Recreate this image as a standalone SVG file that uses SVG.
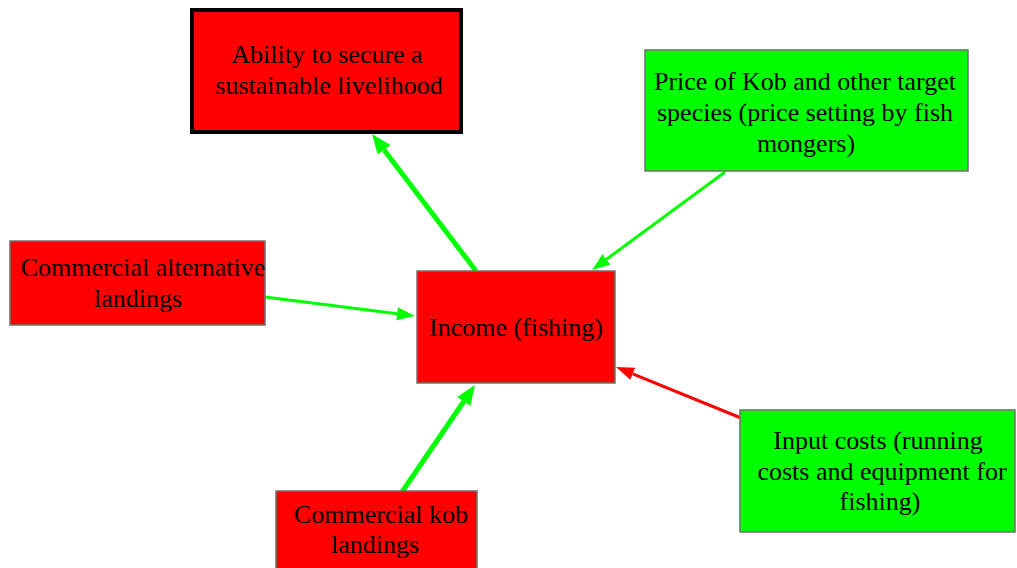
<svg xmlns="http://www.w3.org/2000/svg" width="1017" height="568" viewBox="0 0 1017 568">
  <style>
    .box { stroke: #707070; stroke-width: 1.5; }
    .red { fill: #ff0000; }
    .green { fill: #00ff00; }
    .goal { stroke: #000000; stroke-width: 4; }
    .lbl { font-family: "Liberation Serif", "Times New Roman", serif; font-size: 26px; fill: #000000; text-anchor: middle; }
    .pos { stroke: #00ff00; fill: none; }
    .neg { stroke: #ff0000; fill: none; }
    .thick { stroke-width: 5; }
    .thin { stroke-width: 3; }
  </style>
  <defs>
    <marker id="headGreenL" markerUnits="userSpaceOnUse" markerWidth="20" markerHeight="16" refX="0" refY="8" orient="auto">
      <path d="M0,0 L20,8 L0,16 z" fill="#00ff00"/>
    </marker>
    <marker id="headGreenS" markerUnits="userSpaceOnUse" markerWidth="18" markerHeight="13" refX="0" refY="6.5" orient="auto">
      <path d="M0,0 L18,6.5 L0,13 z" fill="#00ff00"/>
    </marker>
    <marker id="headRedS" markerUnits="userSpaceOnUse" markerWidth="18" markerHeight="13" refX="0" refY="6.5" orient="auto">
      <path d="M0,0 L18,6.5 L0,13 z" fill="#ff0000"/>
    </marker>
  </defs>

  <rect width="1017" height="568" fill="#ffffff"/>

  <!-- links between factors -->
  <g id="connectors">
    <line class="pos thick" x1="476" y1="271" x2="384.1" y2="149.9" marker-end="url(#headGreenL)"/>
    <line class="pos thin" x1="725" y1="172" x2="606.5" y2="259.3" marker-end="url(#headGreenS)"/>
    <line class="pos thin" x1="265" y1="297" x2="397.1" y2="313.7" marker-end="url(#headGreenS)"/>
    <line class="pos thick" x1="402" y1="492" x2="463.7" y2="401.5" marker-end="url(#headGreenL)"/>
    <line class="neg thin" x1="741" y1="418" x2="632.7" y2="373.8" marker-end="url(#headRedS)"/>
  </g>

  <g id="livelihood">
    <rect class="red goal" x="192" y="10" width="269" height="122"/>
    <text class="lbl" x="327" y="63">Ability to secure a</text>
    <text class="lbl" x="329" y="94">sustainable livelihood</text>
  </g>

  <g id="price">
    <rect class="box green" x="645" y="50" width="323" height="121"/>
    <text class="lbl" x="805" y="90">Price of Kob and other target</text>
    <text class="lbl" x="805" y="121">species (price setting by fish</text>
    <text class="lbl" x="806" y="152">mongers)</text>
  </g>

  <g id="alt-landings">
    <rect class="box red" x="10" y="241" width="255" height="84"/>
    <text class="lbl" x="143" y="276">Commercial alternative</text>
    <text class="lbl" x="138" y="307">landings</text>
  </g>

  <g id="income">
    <rect class="box red" x="417" y="271" width="198" height="112"/>
    <text class="lbl" x="516" y="336">Income (fishing)</text>
  </g>

  <g id="input-costs">
    <rect class="box green" x="740" y="410" width="275" height="122"/>
    <text class="lbl" x="878" y="449">Input costs (running</text>
    <text class="lbl" x="882" y="480">costs and equipment for</text>
    <text class="lbl" x="880" y="510">fishing)</text>
  </g>

  <g id="kob-landings">
    <rect class="box red" x="276" y="491" width="201" height="90"/>
    <text class="lbl" x="381" y="523">Commercial kob</text>
    <text class="lbl" x="375" y="553">landings</text>
  </g>
</svg>
